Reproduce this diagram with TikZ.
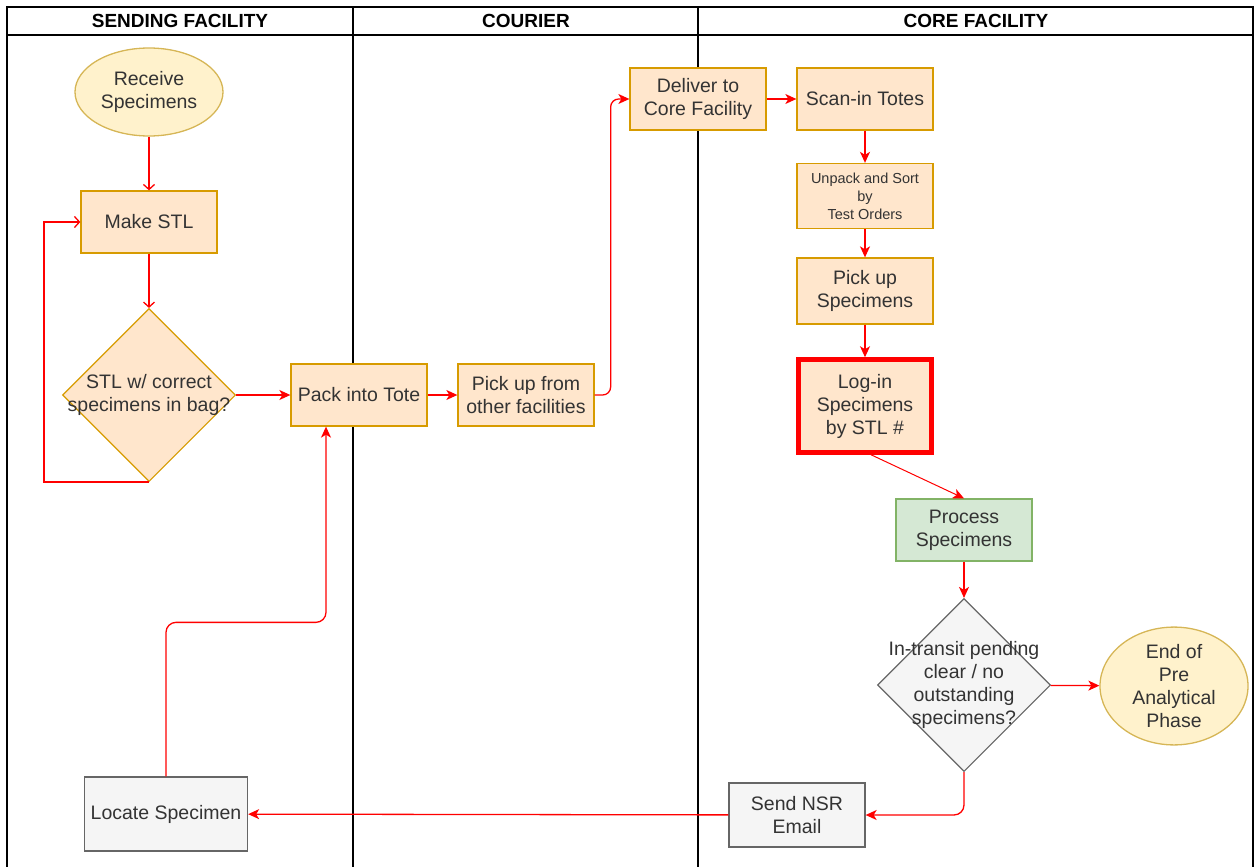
\documentclass[tikz,border=0pt]{standalone}
\usepackage{fontspec}
\setmainfont{Liberation Sans}
\usetikzlibrary{shapes.geometric,arrows.meta,positioning}

\definecolor{orfill}{HTML}{FFE6CC}
\definecolor{orline}{HTML}{D79B00}
\definecolor{yefill}{HTML}{FFF2CC}
\definecolor{yeline}{HTML}{D6B656}
\definecolor{grfill}{HTML}{D5E8D4}
\definecolor{grline}{HTML}{82B366}
\definecolor{gyfill}{HTML}{F5F5F5}
\definecolor{gyline}{HTML}{666666}
\definecolor{flowred}{HTML}{FF0000}

\begin{document}
\begin{tikzpicture}[x=1pt, y=-1pt, align=center, text=black!80,
                    font=\fontsize{19.5}{23}\selectfont]
    \tikzset{
        box/.style      =   { rectangle
                            , draw=orline
                            , fill=orfill
                            , line width=1.3pt
                            , minimum width=136pt
                            , minimum height=62pt
                            , inner sep=2pt
        }
        , grey/.style   =   { box
                            , draw=gyline
                            , fill=gyfill
        }
        , green/.style  =   { box
                            , draw=grline
                            , fill=grfill
        }
        , term/.style   =   { ellipse
                            , draw=yeline
                            , fill=yefill
                            , line width=1.3pt
                            , minimum width=148pt
                            , inner sep=0pt
        }
        , dec/.style    =   { diamond
                            , aspect=1
                            , draw=orline
                            , fill=orfill
                            , line width=1.1pt
                            , minimum width=173pt
                            , minimum height=173pt
                            , inner sep=0pt
        }
        , lane/.style   =   { line width=1.3pt
                            , draw=black
        }
        , flow/.style   =   { line width=1.3pt
                            , draw=flowred
                            , -{Stealth[length=11pt, width=10pt, inset=3pt]}
        }
        , openflow/.style = { line width=1.3pt
                            , draw=flowred
                            , -{Straight Barb[length=5pt, width=11pt]}
        }
        , head/.style   =   { font=\fontsize{19}{22}\selectfont\bfseries
                            , text=black
        }
    }
    \useasboundingbox (0,0) rectangle (1256,867);

    % lanes
    \draw[lane] (7,867) -- (7,7) -- (1253,7) -- (1253,867);
    \draw[lane] (7,35) -- (1253,35);
    \draw[lane] (353,7) -- (353,867);
    \draw[lane] (698,7) -- (698,867);
    \node(h1)[head] at (180,21) {SENDING FACILITY};
    \node(h2)[head] at (526,21) {COURIER};
    \node(h3)[head] at (976,21) {CORE FACILITY};

    % sending facility
    \node(rcv)[term, minimum height=88pt] at (149,92)  {Receive\\Specimens};
    \node(stl)[box]                       at (149,222) {Make STL};
    \node(chk)[dec, label={[align=center]center:{STL w/ correct\\specimens in bag?}}]
                                          at (149,395) {};
    \node(pack)[box]                      at (359,395) {Pack into Tote};
    \node(loc)[grey, minimum width=163pt, minimum height=74pt]
                                          at (166,814) {Locate Specimen};

    % courier
    \node(pick)[box]                      at (526,395) {Pick up from\\other facilities};
    \node(del)[box]                       at (698,99)  {Deliver to\\Core Facility};

    % core facility
    \node(scan)[box]                      at (865,99)  {Scan-in Totes};
    \node(sort)[box, minimum height=65pt, font=\fontsize{14.5}{18}\selectfont]
                                          at (865,196) {Unpack and Sort\\by\\Test Orders};
    \node(pku)[box, minimum height=66pt]  at (865,291) {Pick up\\Specimens};
    \node(login)[box, draw=flowred, line width=4.5pt, minimum width=133pt, minimum height=93pt]
                                          at (865,406) {Log-in\\Specimens\\by STL \#};
    \node(proc)[green]                    at (964,530) {Process\\Specimens};
    \node(pend)[dec, draw=gyline, fill=gyfill,
                label={[align=center]center:{In-transit pending\\clear / no\\outstanding\\specimens?}}]
                                          at (964,685) {};
    \node(fin)[term, minimum height=99pt] at (1174,686) {End of\\Pre\\Analytical\\Phase};
    \node(nsr)[grey, minimum height=64pt] at (797,815) {Send NSR\\Email};

    \draw[openflow] (rcv) -- (stl);
    \draw[openflow] (stl) -- (chk);
    \draw[openflow] (chk.south) -- ++(-105,0) |- (stl.west);
    \draw[flow] (chk) -- (pack);
    \draw[flow] (pack) -- (pick);
    \draw[flow, rounded corners=8pt] (pick.east) -- ++(16,0) |- (del.west);
    \draw[flow] (del) -- (scan);
    \draw[flow] (scan) -- (sort);
    \draw[flow] (sort) -- (pku);
    \draw[flow] (pku) -- (login);
    \draw[flow, line width=1pt] ([xshift=6pt]login.south) -- (proc.north);
    \draw[flow] (proc) -- (pend);
    \draw[flow] (pend) -- (fin);
    \draw[flow, rounded corners=10pt] (pend.south) |- (nsr.east);
    \draw[flow] (nsr) -- (loc);
    \draw[flow, rounded corners=10pt] (loc.north) -- ++(0,-154) -| ([xshift=-33pt]pack.south);
\end{tikzpicture}
\end{document}
